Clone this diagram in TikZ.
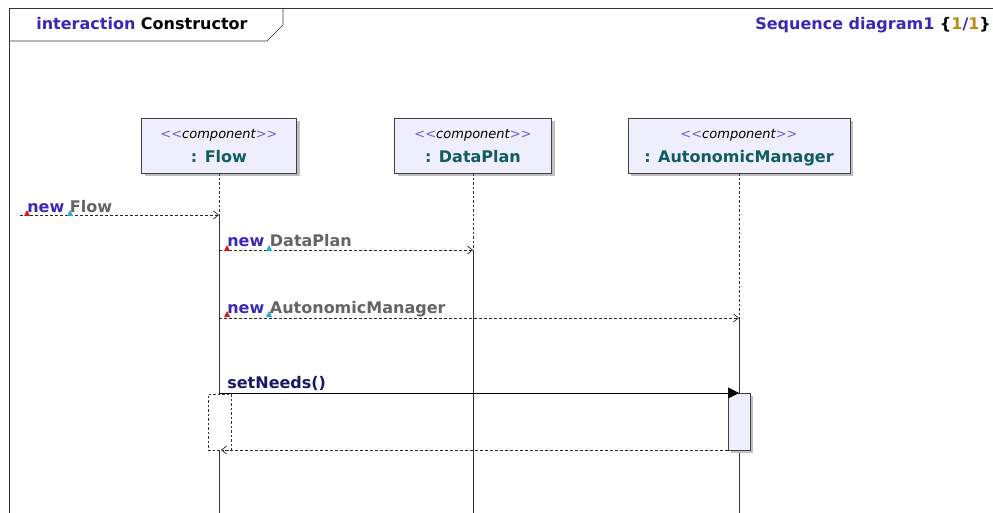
\documentclass[tikz,border=0pt]{standalone}
\usepackage{fontspec}
\setmainfont{DejaVu Sans}
\usetikzlibrary{arrows.meta,shadows}
\definecolor{kwblue}{RGB}{58,40,182}
\definecolor{msggray}{RGB}{100,100,100}
\definecolor{partteal}{RGB}{16,92,96}
\definecolor{callnavy}{RGB}{24,24,104}
\definecolor{pagegold}{RGB}{190,140,20}
\definecolor{headfill}{RGB}{238,238,252}
\definecolor{stereoblue}{RGB}{110,100,200}
\definecolor{markred}{RGB}{220,20,30}
\definecolor{markcyan}{RGB}{40,170,220}

\begin{document}
\begin{tikzpicture}[x=1pt,y=-1pt,line width=0.7pt,
	head/.style={draw=black!75,fill=headfill,minimum height=55pt,inner sep=0pt,
		drop shadow={shadow xshift=3pt,shadow yshift=-3pt,fill=black!25,opacity=1}},
	stereo/.style={anchor=base,inner sep=0pt,font=\fontsize{13}{15}\selectfont\itshape},
	partname/.style={anchor=base,inner sep=0pt,font=\fontsize{16}{19}\selectfont\bfseries,text=partteal},
	lifeline/.style={black!80,dash pattern=on 2.5pt off 2pt},
	alive/.style={black!80},
	createmsg/.style={black!85,dash pattern=on 3pt off 2pt,-{Straight Barb[length=5pt,width=8pt]}},
	callmsg/.style={black,-{Triangle[length=11pt,width=11pt]}},
	msglabel/.style={anchor=base west,inner sep=0pt,font=\fontsize{16}{19}\selectfont\bfseries},
	redmark/.style={fill=markred},
	cyanmark/.style={fill=markcyan}
]
	\useasboundingbox (0,0) rectangle (993,513);

	% frame and title tab
	\draw[black!80] (9,513) -- (9,8) -- (993,8);
	\draw[black!80] (9,41) -- (267,41) -- (283,25) -- (283,8);
	\node[msglabel] (title) at (36,30)
		{\textcolor{kwblue}{interaction} Constructor};
	\node[msglabel,text=kwblue] (diagname) at (755,30)
		{Sequence diagram1 \textcolor{black}{\{}\textcolor{pagegold}{1}/\textcolor{pagegold}{1}\textcolor{black}{\}}};

	% lifeline heads
	\node[head,minimum width=155pt] (flow) at (219,145.5) {};
	\node[head,minimum width=157pt] (plan) at (473,145.5) {};
	\node[head,minimum width=222pt] (manager) at (739,145.5) {};
	\foreach \part/\x/\name in {flow/219/Flow, plan/473/DataPlan, manager/739/AutonomicManager}{
		\node[stereo] (\part st) at (\x,139) {\textcolor{stereoblue}{<{}<}component\textcolor{stereoblue}{>{}>}};
		\node[partname] (\part nm) at (\x,163) {: \name};
	}

	% lifelines
	\coordinate (flowborn) at (219,215);
	\coordinate (planborn) at (473,250);
	\coordinate (managerborn) at (739,318);
	\coordinate (flowend) at (219,513);
	\coordinate (planend) at (473,513);
	\coordinate (managerend) at (739,513);
	\draw[lifeline] (flow.south) -- (flowborn);
	\draw[lifeline] (plan.south) -- (planborn);
	\draw[lifeline] (manager.south) -- (managerborn);
	\draw[alive] (flowborn) -- (flowend);
	\draw[alive] (planborn) -- (planend);
	\draw[alive] (managerborn) -- (managerend);

	% activations
	\node[draw=black!80,dash pattern=on 2.5pt off 2pt,fill=white,minimum width=23pt,minimum height=56pt,inner sep=0pt] (wait) at (219.5,422) {};
	\node[draw=black!75,fill=headfill,minimum width=22pt,minimum height=57pt,inner sep=0pt,
		drop shadow={shadow xshift=3pt,shadow yshift=-3pt,fill=black!25,opacity=1}] (exec) at (739,421.5) {};

	% messages
	\coordinate (gate) at (20,215);
	\coordinate (planfrom) at (219,250);
	\coordinate (managerfrom) at (219,318);
	\coordinate (callfrom) at (219,393);
	\coordinate (callto) at (739,393);
	\coordinate (backfrom) at (728,450);
	\coordinate (backto) at (221,450);
	\draw[createmsg] (gate) -- (flowborn);
	\draw[createmsg] (planfrom) -- (planborn);
	\draw[createmsg] (managerfrom) -- (managerborn);
	\draw[callmsg] (callfrom) -- (callto);
	\draw[createmsg] (backfrom) -- (backto);

	\node[msglabel] (newflow) at (27,212) {\textcolor{kwblue}{new} \textcolor{msggray}{Flow}};
	\node[msglabel] (newplan) at (227,247) {\textcolor{kwblue}{new} \textcolor{msggray}{DataPlan}};
	\node[msglabel] (newmanager) at (227,313) {\textcolor{kwblue}{new} \textcolor{msggray}{AutonomicManager}};
	\node[msglabel,text=callnavy] (setneeds) at (227,388) {setNeeds()};

	% label anchors
	\foreach \x/\y in {27/216, 227/251, 227/317}{
		\fill[redmark] (\x-3,\y) -- (\x+3,\y) -- (\x,\y-6) -- cycle;
	}
	\foreach \x/\y in {70/216, 269/251, 269/317}{
		\fill[cyanmark] (\x-3,\y) -- (\x+3,\y) -- (\x,\y-6) -- cycle;
	}
\end{tikzpicture}
\end{document}
